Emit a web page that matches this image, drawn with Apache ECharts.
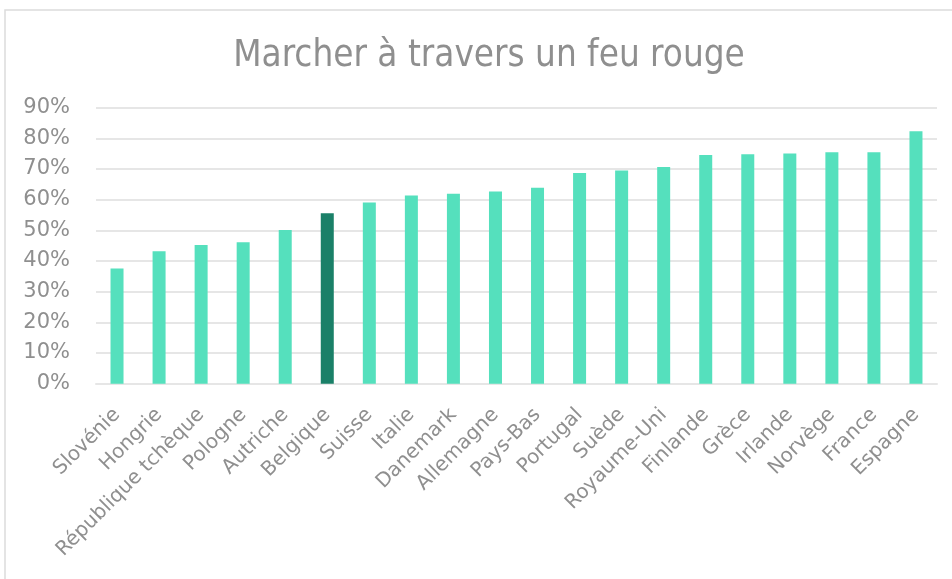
<!DOCTYPE html>
<html>
<head>
<meta charset="utf-8">
<script src="https://cdn.jsdelivr.net/npm/echarts@6/dist/echarts.min.js"></script>
<style>
  html, body { margin: 0; padding: 0; background: #fff; }
  #chart { width: 952px; height: 579px; }
</style>
</head>
<body>
<div id="chart"></div>
<script>
// pays (ordre du graphique)
var countries = ['Slovénie', 'Hongrie', 'République tchèque', 'Pologne', 'Autriche', 'Belgique',
  'Suisse', 'Italie', 'Danemark', 'Allemagne', 'Pays-Bas', 'Portugal', 'Suède', 'Royaume-Uni',
  'Finlande', 'Grèce', 'Irlande', 'Norvège', 'France', 'Espagne'];
// part en %
var values = [37.6, 43.2, 45.2, 46.1, 50.1, 55.6, 59.1, 61.4, 61.9, 62.7,
  63.9, 68.7, 69.5, 70.7, 74.6, 74.8, 75.1, 75.5, 75.5, 82.3];
var highlight = 'Belgique';
var yTicks = [0, 10, 20, 30, 40, 50, 60, 70, 80, 90];

var lightColor = '#55e0bd';
var darkColor = '#1a8068';
var textColor = '#8f8f8f';

var chart = echarts.init(document.getElementById('chart'));

var option = {
  animation: false,
  backgroundColor: '#fff',
  graphic: [{
    type: 'rect',
    shape: { x: 5, y: 10, width: 960, height: 600 },
    style: { fill: 'none', stroke: '#dcdcdc', lineWidth: 1.5 },
    silent: true
  }],
  title: {
    text: 'Marcher à travers un feu rouge',
    left: 484,
    top: 33,
    textAlign: 'center',
    textStyle: {
      color: textColor,
      fontFamily: 'DejaVu Sans Condensed',
      fontWeight: 'normal',
      fontSize: 36.5
    }
  },
  grid: {
    left: 96,
    right: 15,
    top: 107.7,
    bottom: 195.3,
    containLabel: false
  },
  xAxis: {
    type: 'category',
    data: countries,
    axisLine: { show: true, lineStyle: { color: '#e6e6e6', width: 2 } },
    axisTick: { show: false },
    axisLabel: {
      interval: 0,
      rotate: 45,
      margin: 28,
      color: textColor,
      fontFamily: 'DejaVu Sans',
      fontSize: 20
    }
  },
  yAxis: {
    type: 'value',
    min: yTicks[0],
    max: yTicks[yTicks.length - 1],
    interval: 10,
    axisLine: { show: false },
    axisTick: { show: false },
    splitLine: { lineStyle: { color: '#e6e6e6', width: 2 } },
    axisLabel: {
      formatter: '{value}%',
      margin: 26,
      color: textColor,
      fontFamily: 'DejaVu Sans',
      fontSize: 21
    }
  },
  series: [{
    type: 'bar',
    barWidth: 13,
    data: values.map(function (v, i) {
      return {
        value: v,
        itemStyle: { color: countries[i] === highlight ? darkColor : lightColor }
      };
    })
  }]
};

chart.setOption(option);
</script>
</body>
</html>
